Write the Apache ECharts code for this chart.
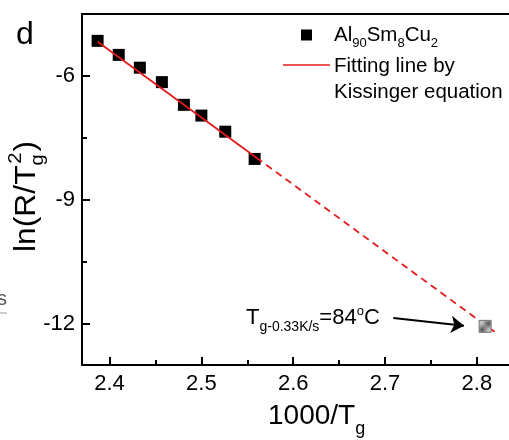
<!DOCTYPE html>
<html><head><meta charset="utf-8">
<script src="https://cdn.jsdelivr.net/npm/echarts@6/dist/echarts.min.js"></script>
<style>html,body{margin:0;padding:0;background:#fff}#c{width:509px;height:440px}</style>
</head><body><div id="c"></div>
<script>
// ---- data ----
const xValues = [2.387, 2.410, 2.433, 2.457, 2.481, 2.500, 2.526, 2.558];
const yValues = [-5.15, -5.49, -5.80, -6.15, -6.70, -6.96, -7.35, -8.01];
const fitSolidX = [2.387, 2.560];
const fitSolidY = [-5.17, -7.98];
const fitDashX = [2.560, 2.822];
const fitDashY = [-7.98, -12.24];
const extrapX = [2.809];
const extrapY = [-12.065];
const arrowFrom = [2.709, -11.86];
const arrowTo = [2.786, -12.05];
const xTicks = [2.4, 2.5, 2.6, 2.7, 2.8];
const xMinorTicks = [2.45, 2.55, 2.65, 2.75];
const yTicks = [-12, -9, -6];
const yMinorTicks = [-10.5, -7.5];

const FONT = '"Liberation Sans", Arial, Helvetica, sans-serif';
const RED = '#e41a1c';
const zip = (a, b) => a.map((v, i) => [v, b[i]]);

const mctx = document.createElement('canvas').getContext('2d');
function measure(t, s) { mctx.font = s + 'px ' + FONT; return mctx.measureText(t).width; }
// pieces: [text, size, baselineOffset, dx]
function textRun(x0, base, pieces, color) {
  let x = x0; const out = [];
  pieces.forEach(p => {
    const [t, s, dy, dx] = p; x += (dx || 0);
    out.push({ type: 'text', x: x, y: base + (dy || 0) - 0.31 * s, silent: true,
      style: { text: t, font: s + 'px ' + FONT, fill: color || '#000', verticalAlign: 'middle', align: 'left' } });
    x += measure(t, s);
  });
  return out;
}
function hatch() {
  const c = document.createElement('canvas'); c.width = c.height = 6;
  const g = c.getContext('2d');
  g.fillStyle = '#c4c4c4'; g.fillRect(0, 0, 6, 6);
  g.strokeStyle = '#505050'; g.lineWidth = 1;
  g.beginPath(); g.moveTo(-1, 7); g.lineTo(7, -1); g.stroke();
  return c;
}

const chart = echarts.init(document.getElementById('c'), null, { renderer: 'canvas' });
const axCommon = { type: 'value', splitLine: { show: false } };
const option = {
  animation: false,
  backgroundColor: '#fff',
  grid: { left: 82, right: -4, top: 14, bottom: 75, containLabel: false },
  xAxis: [
    Object.assign({}, axCommon, { position: 'bottom', min: 2.37, max: 2.835,
      axisLine: { show: true, lineStyle: { color: '#000', width: 2 } },
      axisTick: { show: true, inside: true, length: 8, customValues: xTicks, lineStyle: { color: '#000', width: 2 } },
      axisLabel: { show: true, customValues: xTicks, fontSize: 22, fontFamily: FONT, color: '#000', margin: 8, formatter: v => v.toFixed(1) } }),
    Object.assign({}, axCommon, { position: 'bottom', min: 2.37, max: 2.835,
      axisLine: { show: false },
      axisTick: { show: true, inside: true, length: 5, customValues: xMinorTicks, lineStyle: { color: '#000', width: 2 } },
      axisLabel: { show: false } }),
    Object.assign({}, axCommon, { position: 'top', min: 2.37, max: 2.835,
      axisLine: { show: true, lineStyle: { color: '#000', width: 2 } },
      axisTick: { show: false }, axisLabel: { show: false } })
  ],
  yAxis: [
    Object.assign({}, axCommon, { position: 'left', min: -13, max: -4.5,
      axisLine: { show: true, lineStyle: { color: '#000', width: 2 } },
      axisTick: { show: true, inside: true, length: 8, customValues: yTicks, lineStyle: { color: '#000', width: 2 } },
      axisLabel: { show: true, customValues: yTicks, fontSize: 22, fontFamily: FONT, color: '#000', margin: 7 } }),
    Object.assign({}, axCommon, { position: 'left', min: -13, max: -4.5,
      axisLine: { show: false },
      axisTick: { show: true, inside: true, length: 5, customValues: yMinorTicks, lineStyle: { color: '#000', width: 2 } },
      axisLabel: { show: false } })
  ],
  series: [
    { name: 'Fitting line by Kissinger equation', type: 'line', data: zip(fitSolidX, fitSolidY), showSymbol: false, symbol: 'none',
      lineStyle: { color: RED, width: 1.8 }, z: 3 },
    { name: 'extrapolation', type: 'line', data: zip(fitDashX, fitDashY), showSymbol: false, symbol: 'none',
      lineStyle: { color: RED, width: 1.8, type: [7, 5] }, z: 3 },
    { name: 'Al90Sm8Cu2', type: 'scatter', data: zip(xValues, yValues), symbol: 'rect', symbolSize: 12,
      itemStyle: { color: '#000', opacity: 1 }, z: 2 },
    { name: 'Tg 0.33K/s', type: 'scatter', data: zip(extrapX, extrapY), symbol: 'rect', symbolSize: 12,
      itemStyle: { color: { image: hatch(), repeat: 'repeat' }, borderColor: '#777', borderWidth: 1, opacity: 1 }, z: 4,
      markLine: { silent: true, symbol: ['none', 'arrow'], symbolSize: 13, label: { show: false },
        lineStyle: { color: '#000', width: 2, type: 'solid', opacity: 1 },
        data: [[{ coord: arrowFrom }, { coord: arrowTo }]] } }
  ],
  graphic: [].concat(
    textRun(16, 45, [['d', 32]]),
    // legend
    [{ type: 'rect', shape: { x: 301, y: 29.5, width: 11, height: 11 }, style: { fill: '#000' }, silent: true },
     { type: 'line', shape: { x1: 283, y1: 65, x2: 330, y2: 65 }, style: { stroke: RED, lineWidth: 1.6 }, silent: true }],
    textRun(334, 42, [['Al', 20.5], ['90', 13, 5], ['Sm', 20.5], ['8', 13, 5], ['Cu', 20.5], ['2', 13, 5]]),
    textRun(334, 73, [['Fitting line by', 20.5]]),
    textRun(334, 98.5, [['Kissinger equation', 20.5]]),
    // annotation
    textRun(246, 325, [['T', 22], ['g-0.33K/s', 14, 6], ['=84', 22], ['o', 13, -10], ['C', 22]]),
    // x title
    textRun(268, 425, [['1000/T', 28], ['g', 18, 10]]),
    // y title (rotated)
    [{ type: 'group', x: 36, y: 252, rotation: Math.PI / 2, scaleX: 1.06, silent: true,
       children: textRun(0, 0, [['ln(R/T', 30], ['g', 19, 8], ['2', 19, -14, -9], [')', 30, 0, 1]]) }],
    // fragment of neighbouring panel
    textRun(-3, 306, [['s', 20]], '#555'),
    [{ type: 'line', shape: { x1: 0, y1: 313, x2: 7, y2: 313 }, style: { stroke: '#999', lineWidth: 1 }, silent: true }]
  )
};
chart.setOption(option);
</script>
</body></html>
